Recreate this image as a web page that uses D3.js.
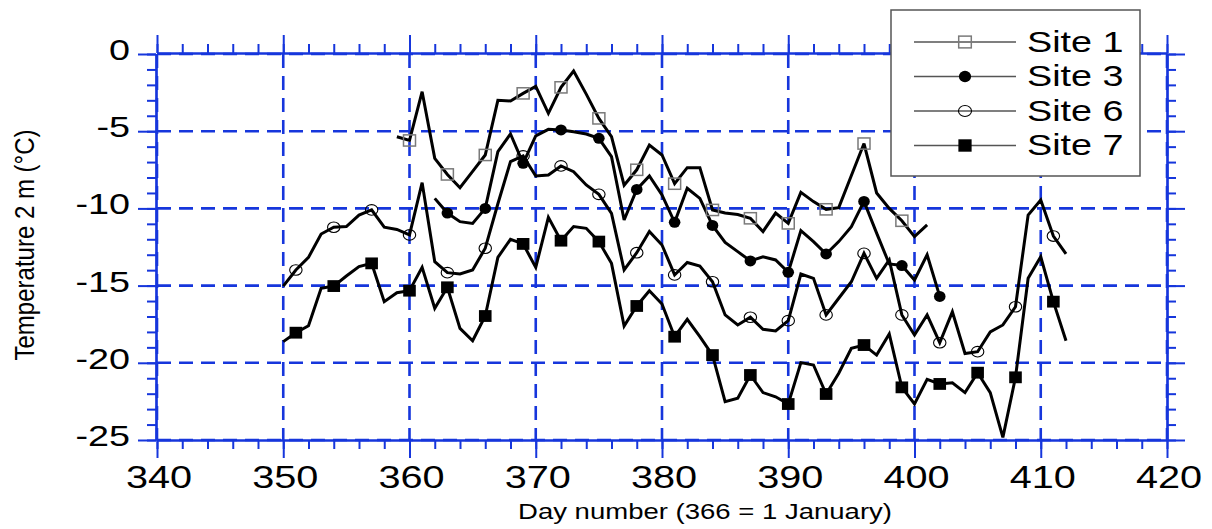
<!DOCTYPE html>
<html>
<head>
<meta charset="utf-8">
<script src="https://cdn.jsdelivr.net/npm/d3@7"></script>
<style>
  body { margin: 0; background: #fff; }
  svg { display: block; }
  text { font-family: "Liberation Sans", Arial, Helvetica, sans-serif; fill: #000; }
</style>
</head>
<body>
<svg id="chart" width="1212" height="529"></svg>
<script>
// Daily 2 m air temperature (°C) at four sites, day number 366 = 1 January
const site1Start = 359;
const site1 = [-5.36, -5.6, -2.44, -6.76, -7.8, -8.66, -7.6, -6.54, -3.0, -3.04,
  -2.55, -2.1, -3.84, -2.16, -1.1, -2.6, -4.17, -5.35, -8.5, -7.5,
  -5.9, -6.54, -8.4, -7.36, -7.36, -10.1, -10.3, -10.4, -10.64, -11.5,
  -10.3, -10.97, -8.96, -9.56, -10.06, -9.95, -7.87, -5.8, -9.0, -10.0,
  -10.8, -11.83, -11.07];
const site1Marks = [360, 363, 366, 369, 372, 375, 378, 381, 384, 387, 390, 393, 396, 399];

const site3Start = 362;
const site3 = [-9.35, -10.3, -10.86, -10.97, -10.0, -6.33, -5.18, -7.08, -5.3, -4.88,
  -4.92, -5.03, -5.18, -5.46, -6.65, -10.75, -8.77, -7.9, -9.13, -10.9,
  -8.7, -9.35, -11.1, -12.2, -12.8, -13.4, -13.13, -13.34, -14.14, -11.44,
  -12.15, -12.95, -12.15, -11.18, -9.55, -11.6, -13.6, -13.7, -14.64, -13.0,
  -15.7];
const site3Marks = [363, 366, 369, 372, 375, 378, 381, 384, 387, 390, 393, 396, 399, 402];

const site6Start = 350;
const site6 = [-15.03, -13.99, -13.17, -11.66, -11.22, -11.18, -10.43, -10.1, -11.22, -11.36,
  -11.72, -8.33, -13.45, -14.16, -14.25, -13.99, -12.58, -9.7, -6.97, -6.6,
  -7.9, -7.84, -7.25, -7.62, -8.48, -9.09, -10.32, -13.99, -12.87, -11.5,
  -12.37, -14.31, -13.5, -13.73, -14.75, -16.9, -17.55, -17.05, -17.83, -17.94,
  -17.27, -14.25, -14.53, -16.9, -15.82, -14.75, -12.91, -14.53, -13.34, -16.9,
  -18.2, -16.9, -18.7, -16.7, -19.4, -19.28, -18.0, -17.55, -16.37, -10.43,
  -9.46, -11.79, -12.95];
const site6Marks = [351, 354, 357, 360, 363, 366, 369, 372, 375, 378, 381, 384, 387, 390,
  393, 396, 399, 402, 405, 408, 411];

const site7Start = 350;
const site7 = [-18.63, -18.05, -17.6, -15.17, -15.03, -14.38, -13.77, -13.56, -16.04, -15.46,
  -15.33, -13.82, -16.47, -15.11, -17.77, -18.57, -16.97, -13.17, -12.0, -12.3,
  -13.82, -10.58, -12.09, -11.18, -11.29, -12.15, -13.56, -17.62, -16.32, -15.33,
  -16.19, -18.31, -17.18, -18.31, -19.5, -22.52, -22.3, -20.79, -21.93, -22.2,
  -22.67, -19.99, -20.14, -22.02, -20.68, -19.06, -18.85, -19.5, -18.13, -21.59,
  -22.67, -21.07, -21.37, -21.29, -21.93, -20.64, -21.93, -24.83, -20.94, -14.53,
  -13.13, -16.04, -18.57];
const site7Marks = [351, 354, 357, 360, 363, 366, 369, 372, 375, 378, 381, 384, 387, 390,
  393, 396, 399, 402, 405, 408, 411];

const seriesNames = ["Site 1", "Site 3", "Site 6", "Site 7"];
const xTickValues = [340, 350, 360, 370, 380, 390, 400, 410, 420];
const xTickLabels = ["340", "350", "360", "370", "380", "390", "400", "410", "420"];
const yTickValues = [0, -5, -10, -15, -20, -25];
const yTickLabels = ["0", "-5", "-10", "-15", "-20", "-25"];
const xMinorValues = d3.range(340, 421, 2);
const yMinorValues = d3.range(0, -26, -1);

const blue = "#1636dc";
const glyphStretch = 1.28;   // the lettering is drawn wide

const svg = d3.select("#chart");
const x = d3.scaleLinear().domain([340, 420]).range([157, 1167]);
const y = d3.scaleLinear().domain([0, -25]).range([54, 440]);

// dashed grid
const grid = svg.append("g")
  .attr("stroke", blue).attr("stroke-width", 2.6).attr("stroke-dasharray", "14,8").attr("fill", "none");
grid.selectAll("line.gx").data(xTickValues).join("line").attr("class", "gx")
  .attr("x1", d => x(d)).attr("x2", d => x(d)).attr("y1", y(0)).attr("y2", y(-25));
grid.selectAll("line.gy").data(yTickValues).join("line").attr("class", "gy")
  .attr("y1", d => y(d)).attr("y2", d => y(d)).attr("x1", x(340)).attr("x2", x(420));

// frame axes: major + minor ticks on all four sides, pointing outward
function drawAxis(axisFn, scale, major, minor, tx, ty) {
  const gMinor = svg.append("g").attr("transform", `translate(${tx},${ty})`)
    .call(axisFn(scale).tickValues(minor).tickSize(9).tickSizeOuter(0).tickFormat(""));
  const gMajor = svg.append("g").attr("transform", `translate(${tx},${ty})`)
    .call(axisFn(scale).tickValues(major).tickSize(18).tickSizeOuter(0).tickFormat(""));
  [gMinor, gMajor].forEach(g => {
    g.select(".domain").attr("stroke", blue).attr("stroke-width", 2.2);
    g.selectAll(".tick line").attr("stroke", blue).attr("stroke-width", 2);
    g.selectAll(".tick text").remove();
  });
}
drawAxis(d3.axisBottom, x, xTickValues, xMinorValues, 0, 440);
drawAxis(d3.axisTop, x, xTickValues, xMinorValues, 0, 53);
drawAxis(d3.axisLeft, y, yTickValues, yMinorValues, 156, 0);
drawAxis(d3.axisRight, y, yTickValues, yMinorValues, 1167, 0);

// wide text helper
function wideText(parent, str, px, py, size, anchor, extra) {
  return parent.append("text")
    .attr("transform", `translate(${px},${py}) ${extra || ""} scale(${glyphStretch},1)`)
    .attr("text-anchor", anchor)
    .attr("font-size", size)
    .text(str);
}

const labels = svg.append("g");
xTickValues.forEach((v, i) => wideText(labels, xTickLabels[i], x(v) + 2, 488, 31, "middle"));
yTickValues.forEach((v, i) => wideText(labels, yTickLabels[i], 130, y(v) + 6, 29.5, "end"));

// axis titles
wideText(labels, "Day number (366 = 1 January)", 705, 519, 21.5, "middle");
svg.append("text")
  .attr("transform", `translate(33.5,245) scale(1.16,1) rotate(-90)`)
  .attr("text-anchor", "middle").attr("font-size", 24)
  .text("Temperature 2 m (\u00B0C)");

// series
const line = d3.line().x(d => x(d.day)).y(d => y(d.t));
function toPoints(start, vals) { return vals.map((t, i) => ({ day: start + i, t })); }
const series = [
  { name: seriesNames[0], pts: toPoints(site1Start, site1), marks: site1Marks, kind: "openSquare" },
  { name: seriesNames[1], pts: toPoints(site3Start, site3), marks: site3Marks, kind: "dot" },
  { name: seriesNames[2], pts: toPoints(site6Start, site6), marks: site6Marks, kind: "ring" },
  { name: seriesNames[3], pts: toPoints(site7Start, site7), marks: site7Marks, kind: "square" }
];

const plot = svg.append("g");
series.forEach(s => {
  plot.append("path").datum(s.pts).attr("d", line)
    .attr("fill", "none").attr("stroke", "#000").attr("stroke-width", 3)
    .attr("stroke-linejoin", "miter").attr("stroke-miterlimit", 3);
});

function drawMarker(g, kind, cx, cy, scaleUp) {
  const k = scaleUp || 1;
  if (kind === "openSquare") {
    g.append("rect").attr("x", cx - 6 * k).attr("y", cy - 5.6 * k).attr("width", 12 * k).attr("height", 11.2 * k)
      .attr("fill", "none").attr("stroke", "#7a7a7a").attr("stroke-width", 1.5);
  } else if (kind === "dot") {
    g.append("ellipse").attr("cx", cx).attr("cy", cy).attr("rx", 5.8 * k).attr("ry", 5.5 * k).attr("fill", "#000");
  } else if (kind === "ring") {
    g.append("ellipse").attr("cx", cx).attr("cy", cy).attr("rx", 6.2 * k).attr("ry", 5.3 * k)
      .attr("fill", "none").attr("stroke", "#000").attr("stroke-width", 1.1);
  } else {
    g.append("rect").attr("x", cx - 6.3 * k).attr("y", cy - 5.9 * k).attr("width", 12.6 * k).attr("height", 11.8 * k)
      .attr("fill", "#000");
  }
}

series.forEach(s => {
  const g = plot.append("g");
  s.pts.filter(p => s.marks.includes(p.day)).forEach(p => drawMarker(g, s.kind, x(p.day), y(p.t)));
});

// legend
const legend = svg.append("g");
legend.append("rect").attr("x", 891).attr("y", 10).attr("width", 249).attr("height", 166)
  .attr("fill", "#fff").attr("stroke", "#555").attr("stroke-width", 1.5);
const rowY = [42, 76.5, 111, 145.5];
series.forEach((s, i) => {
  legend.append("line").attr("x1", 914).attr("x2", 1016).attr("y1", rowY[i]).attr("y2", rowY[i])
    .attr("stroke", "#555").attr("stroke-width", 1.5);
  drawMarker(legend, s.kind, 965, rowY[i], 1.05);
  wideText(legend, s.name, 1027, rowY[i] + 9.5, 29.5, "start");
});
</script>
</body>
</html>
